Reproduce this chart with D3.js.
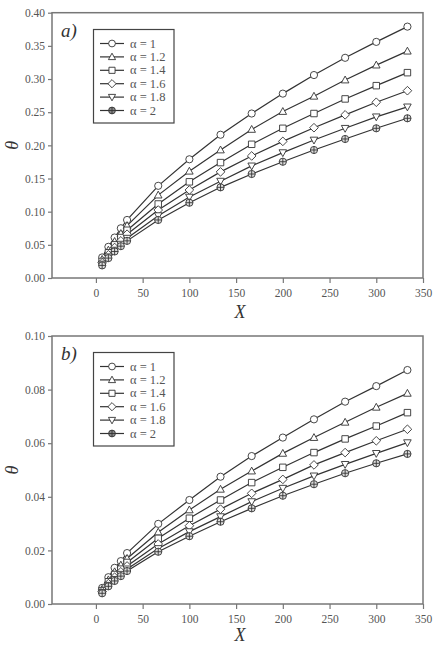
<!DOCTYPE html>
<html>
<head>
<script src="https://d3js.org/d3.v7.min.js"></script>
<style>
  body { margin: 0; background: #fff; }
  text { font-family: "Liberation Serif", "Times New Roman", serif; }
</style>
</head>
<body>
<script>
// X positions shared by all series
const xs = [6.67, 13.33, 20, 26.67, 33.33, 66.67, 100, 133.33, 166.67, 200, 233.33, 266.67, 300, 333.33];
const alphas = ["1", "1.2", "1.4", "1.6", "1.8", "2"];
const shapes = ["circle", "triangle", "square", "diamond", "triangleDown", "circlePlus"];

// panel a) theta values per alpha
const a1  = [0.031, 0.047, 0.061, 0.075, 0.0875, 0.139, 0.179, 0.216, 0.248, 0.278, 0.306, 0.332, 0.356, 0.379];
const a12 = [0.028, 0.042, 0.055, 0.067, 0.079, 0.125, 0.161, 0.193, 0.224, 0.251, 0.274, 0.2985, 0.321, 0.342];
const a14 = [0.025, 0.038, 0.050, 0.061, 0.072, 0.1116, 0.145, 0.174, 0.2016, 0.2257, 0.248, 0.270, 0.290, 0.3096];
const a16 = [0.023, 0.035, 0.046, 0.056, 0.066, 0.1025, 0.1327, 0.160, 0.184, 0.206, 0.2266, 0.246, 0.265, 0.2824];
const a18 = [0.021, 0.032, 0.042, 0.051, 0.060, 0.094, 0.122, 0.146, 0.169, 0.189, 0.208, 0.2257, 0.243, 0.258];
const a2  = [0.019, 0.030, 0.040, 0.048, 0.056, 0.0875, 0.1135, 0.1367, 0.1568, 0.1753, 0.193, 0.2096, 0.2257, 0.2408];

// panel b) theta values per alpha
const b1  = [0.006, 0.010, 0.0135, 0.016, 0.019, 0.0299, 0.0388, 0.0475, 0.0552, 0.0621, 0.0689, 0.0755, 0.0813, 0.0873];
const b12 = [0.0055, 0.009, 0.012, 0.0145, 0.017, 0.0268, 0.0351, 0.0428, 0.0496, 0.0562, 0.0621, 0.0678, 0.0734, 0.0786];
const b14 = [0.005, 0.0083, 0.011, 0.013, 0.0155, 0.0245, 0.0320, 0.0388, 0.0453, 0.0510, 0.0565, 0.0616, 0.0664, 0.0714];
const b16 = [0.0046, 0.0076, 0.0100, 0.012, 0.0142, 0.0224, 0.0292, 0.0354, 0.0413, 0.0465, 0.0519, 0.0565, 0.0609, 0.0652];
const b18 = [0.0043, 0.0070, 0.0092, 0.0111, 0.0131, 0.0207, 0.0270, 0.0326, 0.0382, 0.0432, 0.0478, 0.0521, 0.0562, 0.0602];
const b2  = [0.0040, 0.0066, 0.0086, 0.0104, 0.0123, 0.0195, 0.0253, 0.0307, 0.0357, 0.0404, 0.0447, 0.0488, 0.0525, 0.0560];

const xTicks = [0, 50, 100, 150, 200, 250, 300, 350];
const yTicksA = [0, 0.05, 0.10, 0.15, 0.20, 0.25, 0.30, 0.35, 0.40];
const yTicksB = [0, 0.02, 0.04, 0.06, 0.08, 0.10];

const svg = d3.select("body").append("svg").attr("width", 434).attr("height", 646);

const axisCol = "#777", lineCol = "#333", textCol = "#555";

function marker(shape, r) {
  const p = d3.path();
  if (shape === "circle" || shape === "circlePlus") {
    p.moveTo(r, 0); p.arc(0, 0, r, 0, Math.PI * 2);
    if (shape === "circlePlus") { p.moveTo(-r, 0); p.lineTo(r, 0); p.moveTo(0, -r); p.lineTo(0, r); }
  } else if (shape === "triangle") {
    p.moveTo(0, -r * 1.1); p.lineTo(r * 1.05, r * 0.8); p.lineTo(-r * 1.05, r * 0.8); p.closePath();
  } else if (shape === "triangleDown") {
    p.moveTo(0, r * 1.1); p.lineTo(r * 1.05, -r * 0.8); p.lineTo(-r * 1.05, -r * 0.8); p.closePath();
  } else if (shape === "square") {
    p.rect(-r * 0.9, -r * 0.9, r * 1.8, r * 1.8);
  } else if (shape === "diamond") {
    p.moveTo(0, -r * 1.2); p.lineTo(r * 1.2, 0); p.lineTo(0, r * 1.2); p.lineTo(-r * 1.2, 0); p.closePath();
  }
  return p.toString();
}

function panel(cfg) {
  const g = svg.append("g");
  const x = d3.scaleLinear().domain([-47, 350]).range([52, 423]);
  const y = d3.scaleLinear().domain([0, cfg.ymax]).range([cfg.bottom, cfg.top]);

  // frame
  g.append("rect").attr("x", 52).attr("y", cfg.top).attr("width", 423 - 52).attr("height", cfg.bottom - cfg.top)
    .attr("fill", "none").attr("stroke", axisCol).attr("stroke-width", 1.5);

  const yAxis = g.append("g").attr("transform", "translate(52,0)")
    .call(d3.axisLeft(y).tickValues(cfg.yTicks).tickFormat(d3.format(".2f")).tickSize(4).tickPadding(3));
  const xAxis = g.append("g").attr("transform", `translate(0,${cfg.bottom})`)
    .call(d3.axisBottom(x).tickValues(xTicks).tickSize(5).tickPadding(6));
  [yAxis, xAxis].forEach(a => {
    a.select(".domain").remove();
    a.selectAll("line").attr("stroke", axisCol).attr("stroke-width", 1.2);
    a.selectAll("text").attr("fill", textCol).style("font-size", "11.5px").style("font-family", "Liberation Serif, serif");
  });

  const line = d3.line().x((d, i) => x(xs[i])).y(d => y(d));
  cfg.series.forEach((s, k) => {
    g.append("path").attr("d", line(s)).attr("fill", "none").attr("stroke", lineCol).attr("stroke-width", 1.2);
  });
  cfg.series.forEach((s, k) => {
    g.selectAll(null).data(s).enter().append("path")
      .attr("transform", (d, i) => `translate(${x(xs[i])},${y(d)})`)
      .attr("d", marker(shapes[k], 3.6))
      .attr("fill", shapes[k] === "circlePlus" ? "#ddd" : "#fff")
      .attr("stroke", lineCol).attr("stroke-width", 0.9);
  });

  // panel label
  g.append("text").attr("x", 61).attr("y", cfg.top + 24).text(cfg.label)
    .style("font-size", "19px").style("font-style", "italic").attr("fill", "#333");

  // legend
  const lg = g.append("g");
  lg.append("rect").attr("x", 93.5).attr("y", cfg.legTop).attr("width", 80.5).attr("height", 93.5)
    .attr("fill", "#fff").attr("stroke", "#444").attr("stroke-width", 1.2);
  alphas.forEach((a, k) => {
    const yy = cfg.legTop + 14 + k * 13.4;
    lg.append("line").attr("x1", 100).attr("x2", 124).attr("y1", yy).attr("y2", yy)
      .attr("stroke", lineCol).attr("stroke-width", 1.2);
    lg.append("path").attr("transform", `translate(112,${yy})`).attr("d", marker(shapes[k], 3.4))
      .attr("fill", shapes[k] === "circlePlus" ? "#888" : "#fff").attr("stroke", lineCol).attr("stroke-width", 0.9);
    lg.append("text").attr("x", 130).attr("y", yy + 4).text("\u03b1 = " + a)
      .style("font-size", "12.5px").attr("fill", textCol);
  });

  // axis titles
  svg.append("text").attr("x", 240).attr("y", cfg.xLabelY).attr("text-anchor", "middle")
    .style("font-size", "18px").style("font-style", "italic").attr("fill", "#333").text("X");
  svg.append("text").attr("transform", `translate(18,${(cfg.top + cfg.bottom) / 2}) rotate(-90)`)
    .attr("text-anchor", "middle").style("font-size", "18px").style("font-style", "italic").attr("fill", "#333").text("\u03b8");
}

panel({ top: 12.7, bottom: 278, ymax: 0.40, yTicks: yTicksA, label: "a)", legTop: 29.5, xLabelY: 318,
        series: [a1, a12, a14, a16, a18, a2] });
panel({ top: 336, bottom: 604, ymax: 0.10, yTicks: yTicksB, label: "b)", legTop: 352.5, xLabelY: 641,
        series: [b1, b12, b14, b16, b18, b2] });
</script>
</body>
</html>
